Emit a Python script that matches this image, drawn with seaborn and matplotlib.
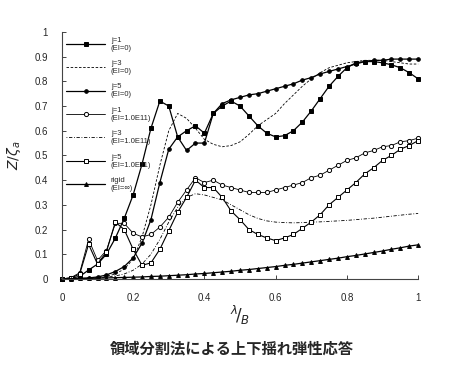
import numpy as np
import pandas as pd
import matplotlib
matplotlib.use("Agg")
import matplotlib.pyplot as plt
from matplotlib.ticker import FuncFormatter
import seaborn as sns

# wave length ratio, 0 to 1 in steps of 0.025
x_vals = [round(0.025 * k, 3) for k in range(41)]

j1_rigid_body = [0, 0.003, 0.01, 0.036, 0.06, 0.10, 0.165, 0.245, 0.34, 0.465,
                 0.61, 0.72, 0.70, 0.575, 0.60, 0.62, 0.59, 0.67, 0.70, 0.72,
                 0.70, 0.66, 0.62, 0.59, 0.575, 0.58, 0.60, 0.635, 0.68, 0.73,
                 0.78, 0.82, 0.855, 0.875, 0.88, 0.88, 0.875, 0.867, 0.855, 0.835,
                 0.81]
j3_rigid_body = [0, 0, 0.001, 0.003, 0.005, 0.01, 0.02, 0.04, 0.08, 0.17,
                 0.30, 0.46, 0.60, 0.67, 0.65, 0.61, 0.565, 0.545, 0.535, 0.54,
                 0.555, 0.585, 0.62, 0.645, 0.67, 0.71, 0.745, 0.78, 0.81, 0.835,
                 0.855, 0.865, 0.875, 0.88, 0.885, 0.885, 0.885, 0.88, 0.875, 0.87,
                 0.87]
j5_rigid_body = [0, 0, 0.002, 0.004, 0.008, 0.016, 0.03, 0.05, 0.085, 0.145,
                 0.24, 0.39, 0.525, 0.575, 0.52, 0.55, 0.55, 0.67, 0.71, 0.725,
                 0.735, 0.745, 0.75, 0.76, 0.77, 0.78, 0.79, 0.805, 0.815, 0.83,
                 0.84, 0.85, 0.86, 0.87, 0.88, 0.885, 0.885, 0.89, 0.89, 0.89,
                 0.89]
j1_elastic = [0, 0.005, 0.025, 0.16, 0.075, 0.115, 0.225, 0.225, 0.185, 0.17,
              0.18, 0.21, 0.25, 0.31, 0.36, 0.41, 0.39, 0.40, 0.38, 0.37,
              0.36, 0.35, 0.35, 0.35, 0.36, 0.37, 0.38, 0.39, 0.41, 0.42,
              0.44, 0.46, 0.48, 0.49, 0.51, 0.52, 0.535, 0.54, 0.555, 0.56,
              0.57]
j3_elastic = [0, 0, 0.001, 0.002, 0.004, 0.007, 0.012, 0.02, 0.035, 0.06,
              0.10, 0.16, 0.23, 0.29, 0.33, 0.345, 0.34, 0.33, 0.32, 0.30,
              0.28, 0.26, 0.245, 0.235, 0.23, 0.228, 0.227, 0.228, 0.23, 0.231,
              0.233, 0.235, 0.237, 0.24, 0.243, 0.246, 0.25, 0.254, 0.258, 0.262,
              0.265]
j5_elastic = [0, 0.003, 0.02, 0.14, 0.06, 0.11, 0.23, 0.20, 0.12, 0.055,
              0.065, 0.12, 0.195, 0.27, 0.33, 0.40, 0.37, 0.37, 0.33, 0.275,
              0.24, 0.20, 0.18, 0.166, 0.155, 0.166, 0.18, 0.205, 0.23, 0.26,
              0.30, 0.33, 0.36, 0.39, 0.425, 0.45, 0.48, 0.50, 0.525, 0.54,
              0.56]
rigid = [0, 0.001, 0.002, 0.002, 0.003, 0.004, 0.005, 0.006, 0.007, 0.008,
         0.010, 0.011, 0.013, 0.015, 0.017, 0.020, 0.022, 0.025, 0.028, 0.031,
         0.035, 0.038, 0.042, 0.046, 0.050, 0.055, 0.059, 0.064, 0.069, 0.074,
         0.079, 0.084, 0.090, 0.095, 0.101, 0.107, 0.113, 0.120, 0.126, 0.133,
         0.138]

labels = ["j=1\n(EI=0)", "j=3\n(EI=0)", "j=5\n(EI=0)",
          "j=1\n(EI=1.0E11)", "j=3\n(EI=1.0E11)", "j=5\n(EI=1.0E11)",
          "rigid\n(EI=\u221e)"]
series = [j1_rigid_body, j3_rigid_body, j5_rigid_body,
          j1_elastic, j3_elastic, j5_elastic, rigid]

# line style, marker, face colour, marker size, line width
styles = [
    ("-", "s", "black", 3.2, 0.9),
    ((0, (3, 2)), None, "black", 0, 0.6),
    ("-", "o", "black", 2.6, 0.9),
    ("-", "o", "white", 3.0, 0.6),
    ((0, (1, 2, 4, 2)), None, "black", 0, 0.6),
    ("-", "s", "white", 3.0, 0.8),
    ("-", "^", "black", 2.8, 0.9),
]

sns.set_style("ticks")
plt.rcParams["font.family"] = ["Liberation Sans", "DejaVu Sans"]

fig = plt.figure(figsize=(4.55, 3.67), dpi=100)
ax = fig.add_axes([0.136, 0.240, 0.783, 0.673])

for y, label, (ls, mk, fc, ms, lw) in zip(series, labels, styles):
    sns.lineplot(x=x_vals, y=y, ax=ax, color="black", linestyle=ls,
                 linewidth=lw, marker=mk, markersize=ms,
                 markerfacecolor=fc, markeredgecolor="black",
                 markeredgewidth=0.7, label=label, clip_on=False)

ax.set_xlim(0, 1)
ax.set_ylim(0, 1)
ax.set_xticks([0, 0.2, 0.4, 0.6, 0.8, 1.0])
ax.set_yticks(np.arange(0, 1.01, 0.1))
fmt = FuncFormatter(lambda v, p: "%g" % round(v, 1))
ax.xaxis.set_major_formatter(fmt)
ax.yaxis.set_major_formatter(fmt)
ax.tick_params(direction="in", length=3, width=0.6, labelsize=7, pad=10)

for side in ["top", "right"]:
    ax.spines[side].set_visible(False)
for side in ["left", "bottom"]:
    ax.spines[side].set_linestyle((0, (1, 1)))
    ax.spines[side].set_linewidth(0.8)
    ax.spines[side].set_color("#444444")

ax.set_ylabel(r"$Z/\zeta_a$", fontsize=10, labelpad=8)
ax.set_xlabel(r"$^{\lambda}\!/_{B}$", fontsize=12, labelpad=0)

leg = ax.legend(loc="upper left", bbox_to_anchor=(0.0, 1.0), frameon=False,
                fontsize=5.5, handlelength=5.0, labelspacing=1.1,
                handletextpad=0.8, borderaxespad=0.2)

fig.text(0.51, 0.05, "領域分割法による上下揺れ弾性応答", ha="center",
         va="center", fontsize=11, weight="bold",
         family=["Noto Sans CJK JP", "DejaVu Sans"])

fig.savefig("out.png", dpi=100)
